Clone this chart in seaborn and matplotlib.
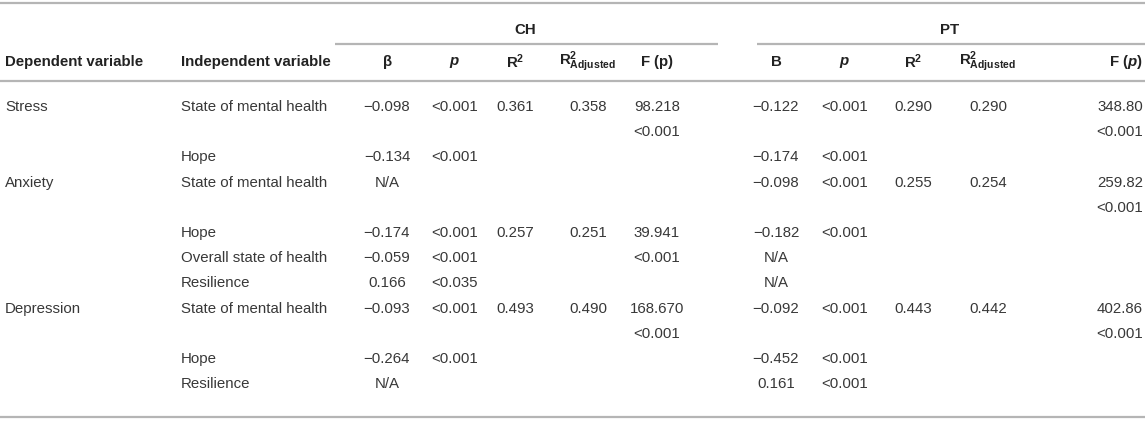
import matplotlib
matplotlib.use("Agg")
import matplotlib.pyplot as plt
import seaborn as sns

# table contents, one entry per printed line
dependent = ["Stress", "", "", "Anxiety", "", "", "", "", "Depression", "", "", ""]
independent = ["State of mental health", "", "Hope", "State of mental health", "", "Hope",
               "Overall state of health", "Resilience", "State of mental health", "", "Hope",
               "Resilience"]
ch_beta = ["\u22120.098", "", "\u22120.134", "N/A", "", "\u22120.174", "\u22120.059", "0.166",
           "\u22120.093", "", "\u22120.264", "N/A"]
ch_p = ["<0.001", "", "<0.001", "", "", "<0.001", "<0.001", "<0.035", "<0.001", "", "<0.001", ""]
ch_r2 = ["0.361", "", "", "", "", "0.257", "", "", "0.493", "", "", ""]
ch_r2adj = ["0.358", "", "", "", "", "0.251", "", "", "0.490", "", "", ""]
ch_f = ["98.218", "<0.001", "", "", "", "39.941", "<0.001", "", "168.670", "<0.001", "", ""]
pt_b = ["\u22120.122", "", "\u22120.174", "\u22120.098", "", "\u22120.182", "N/A", "N/A",
        "\u22120.092", "", "\u22120.452", "0.161"]
pt_p = ["<0.001", "", "<0.001", "<0.001", "", "<0.001", "", "", "<0.001", "", "<0.001", "<0.001"]
pt_r2 = ["0.290", "", "", "0.255", "", "", "", "", "0.443", "", "", ""]
pt_r2adj = ["0.290", "", "", "0.254", "", "", "", "", "0.442", "", "", ""]
pt_f = ["348.80", "<0.001", "", "259.82", "<0.001", "", "", "", "402.86", "<0.001", "", ""]

groups = ["CH", "PT"]
headers = ["Dependent variable", "Independent variable",
           r"$\mathbf{\beta}$", r"$\boldsymbol{p}$", r"$\mathbf{R^2}$",
           r"$\mathbf{R^2_{Adjusted}}$", r"$\mathbf{F\ (p)}$",
           "B", r"$\boldsymbol{p}$", r"$\mathbf{R^2}$",
           r"$\mathbf{R^2_{Adjusted}}$", r"$\mathbf{F\ (}\boldsymbol{p}\mathbf{)}$"]

sns.set_theme(style="white")
plt.rcParams["font.family"] = ["Liberation Sans", "DejaVu Sans"]
plt.rcParams["mathtext.fontset"] = "custom"
plt.rcParams["mathtext.rm"] = "Liberation Sans"
plt.rcParams["mathtext.bf"] = "Liberation Sans:bold"
plt.rcParams["mathtext.it"] = "Liberation Sans:italic"
plt.rcParams["mathtext.bfit"] = "Liberation Sans:bold:italic"

fig = plt.figure(figsize=(11.45, 4.21), dpi=100)
ax = fig.add_axes([0, 0, 1, 1])
ax.set_xlim(0, 1145)
ax.set_ylim(421, 0)
ax.axis("off")

fs = 10.8
body = "#383838"
head = "#222222"
rule = "#b5b5b5"

# rules
ax.hlines([3, 81, 417], 0, 1145, color=rule, lw=1.6)
ax.hlines(44, 335, 718, color=rule, lw=1.6)
ax.hlines(44, 757, 1145, color=rule, lw=1.6)

# group labels
for g, x in zip(groups, [525, 950]):
    ax.text(x, 30, g, ha="center", va="center", fontsize=fs, fontweight="bold", color=head)

# column headers (last column right-aligned at the table edge)
num_x = [387, 455, 515, 588, 657, 776, 845, 913, 988, 1143]
aligns = ["center"] * 9 + ["right"]
ax.text(5, 62, headers[0], ha="left", va="center", fontsize=fs, fontweight="bold", color=head)
ax.text(181, 62, headers[1], ha="left", va="center", fontsize=fs, fontweight="bold", color=head)
for h, x, a in zip(headers[2:], num_x, aligns):
    ax.text(x, 62, h, ha=a, va="center", fontsize=fs, fontweight="bold", color=head)

# body
cols = [ch_beta, ch_p, ch_r2, ch_r2adj, ch_f, pt_b, pt_p, pt_r2, pt_r2adj, pt_f]
for i in range(len(dependent)):
    y = 107 + 25.2 * i
    ax.text(5, y, dependent[i], ha="left", va="center", fontsize=fs, color=body)
    ax.text(181, y, independent[i], ha="left", va="center", fontsize=fs, color=body)
    for col, x, a in zip(cols, num_x, aligns):
        if col[i]:
            ax.text(x, y, col[i], ha=a, va="center", fontsize=fs, color=body)

fig.savefig("out.png", dpi=100)
